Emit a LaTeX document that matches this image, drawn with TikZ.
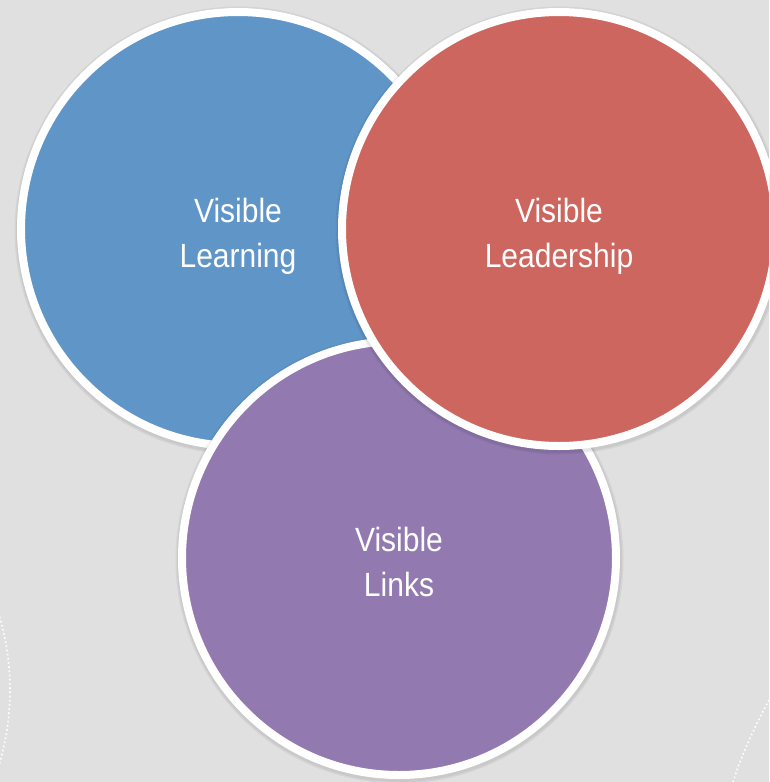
\documentclass[tikz,border=0pt]{standalone}
\usepackage{fontspec}
\setmainfont{Liberation Sans}
\definecolor{bgray}{HTML}{E0E0E0}
\definecolor{cblue}{HTML}{6095C8}
\definecolor{cred}{HTML}{CD665F}
\definecolor{cpurple}{HTML}{927AB0}
% two centred lines, set slightly tall and narrow
\newcommand{\bubbletext}[2]{\scalebox{1}[1.12]{%
  \begin{tabular}{@{}c@{}}#1\\#2\end{tabular}}}
\begin{document}
\begin{tikzpicture}[x=1pt,y=-1pt,
  bubble/.style={circle, minimum size=434pt, inner sep=0pt, draw=white, line width=8pt},
  caption/.style={text=white, align=center, inner sep=0pt, font=\fontsize{30}{40.5}\selectfont},
  dots/.style={white, line width=1.6pt, dash pattern=on 1.6pt off 2.6pt},
  halo/.style={fill=black, fill opacity=0.05}]
  % page background
  \fill[bgray] (0,0) rectangle (769,782);
  \useasboundingbox (0,0) rectangle (769,782);
  \clip (0,0) rectangle (769,782);
  % faint dotted arcs near the lower corners
  \draw[dots] (-254,690) ++(-17:264) arc[start angle=-17, end angle=17, radius=264];
  \coordinate (rdA) at (769,700);
  \coordinate (rdB) at (733,782);
  \draw[dots] (rdA) .. controls (755,726) and (741,756) .. (rdB);
  % soft shadow under each circle, then the circle and its caption
  \foreach \r in {224,222.5}{\fill[halo] (238.5,230.5) circle[radius=\r];}
  \node[bubble, fill=cblue] (learn) at (238,229) {};
  \node[caption] (learntext) at ([yshift=-7pt]learn.center) {\bubbletext{Visible}{Learning}};
  \foreach \r in {224,222.5}{\fill[halo] (399.5,559.5) circle[radius=\r];}
  \node[bubble, fill=cpurple] (links) at (399,558) {};
  \node[caption] (linkstext) at ([yshift=-7pt]links.center) {\bubbletext{Visible}{Links}};
  \foreach \r in {224,222.5}{\fill[halo] (559.5,230.5) circle[radius=\r];}
  \node[bubble, fill=cred] (lead) at (559,229) {};
  \node[caption] (leadtext) at ([yshift=-7pt]lead.center) {\bubbletext{Visible}{Leadership}};
\end{tikzpicture}
\end{document}
